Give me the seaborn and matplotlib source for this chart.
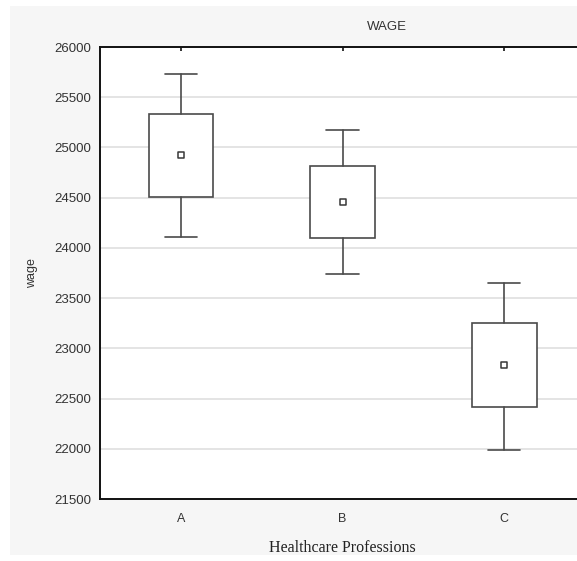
import matplotlib
matplotlib.use("Agg")
import matplotlib.pyplot as plt
import seaborn as sns
from matplotlib.patches import Rectangle

# values (mean, box = mean +/- SE, whiskers = mean +/- 1.96 SE)
professions = ["A", "B", "C"]
means = [24920, 24460, 22830]
box_low = [24510, 24100, 22415]
box_high = [25330, 24820, 23255]
whisker_low = [24110, 23740, 21990]
whisker_high = [25730, 25170, 23650]

y_ticks = [21500, 22000, 22500, 23000, 23500, 24000, 24500, 25000, 25500, 26000]

sns.set_style("white")
plt.rcParams["font.family"] = ["Liberation Sans", "DejaVu Sans"]

line_col = "#4a4a4a"

fig = plt.figure(figsize=(5.77, 5.61), dpi=100, facecolor="white")
# light grey panel with a thin white frame, like the original export
fig.patches.append(Rectangle((10 / 577, 6 / 561), 1, 1 - 12 / 561,
                             transform=fig.transFigure, facecolor="#f6f6f6",
                             edgecolor="none", zorder=-10))

ax = fig.add_axes([100 / 577, 62 / 561, 485 / 577, 452 / 561])
ax.set_facecolor("white")

stats = []
for i, name in enumerate(professions):
    stats.append({
        "label": name,
        "med": means[i],
        "q1": box_low[i],
        "q3": box_high[i],
        "whislo": whisker_low[i],
        "whishi": whisker_high[i],
        "fliers": [],
    })

line_kw = dict(color=line_col, linewidth=1.2)
ax.bxp(stats, positions=range(len(professions)), widths=0.4, capwidths=0.2,
       showfliers=False, patch_artist=True,
       boxprops=dict(facecolor="white", edgecolor=line_col, linewidth=1.2),
       whiskerprops=line_kw, capprops=line_kw,
       medianprops=dict(linewidth=0), zorder=3)

sns.scatterplot(x=list(range(len(professions))), y=means, ax=ax, marker="s",
                s=22, facecolor="white", edgecolor="#383838", linewidth=1.1,
                zorder=4, legend=False)

ax.set_xlim(-0.5, 2.5)
ax.set_ylim(21500, 26000)
ax.set_yticks(y_ticks)
ax.set_yticklabels([str(v) for v in y_ticks])
ax.set_xticks(range(len(professions)))
ax.set_xticklabels(professions)

for v in y_ticks[1:-1]:
    ax.axhline(v, color="#e2e2e2", linewidth=1.3, zorder=1)

for side in ["left", "top", "bottom", "right"]:
    ax.spines[side].set_color("#111111")
    ax.spines[side].set_linewidth(1.4)

ax.tick_params(axis="y", direction="out", length=3, width=1, color="#111111",
               labelsize=9.5, labelcolor="#333333", pad=3)
ax.tick_params(axis="x", direction="in", length=3, width=1.2, color="#111111",
               labelsize=9, labelcolor="#333333", pad=10, top=True)

ax.set_ylabel("wage", fontsize=9, color="#333333", labelpad=12)
ax.set_xlabel("Healthcare Professions", fontsize=11.5, color="#222222",
              family=["Liberation Serif", "DejaVu Serif"], labelpad=11)
fig.text(387 / 577, 1 - 27 / 561, "WAGE", ha="center", va="center",
         fontsize=9.5, color="#333333")

fig.savefig("out.png", dpi=100, facecolor=fig.get_facecolor())
